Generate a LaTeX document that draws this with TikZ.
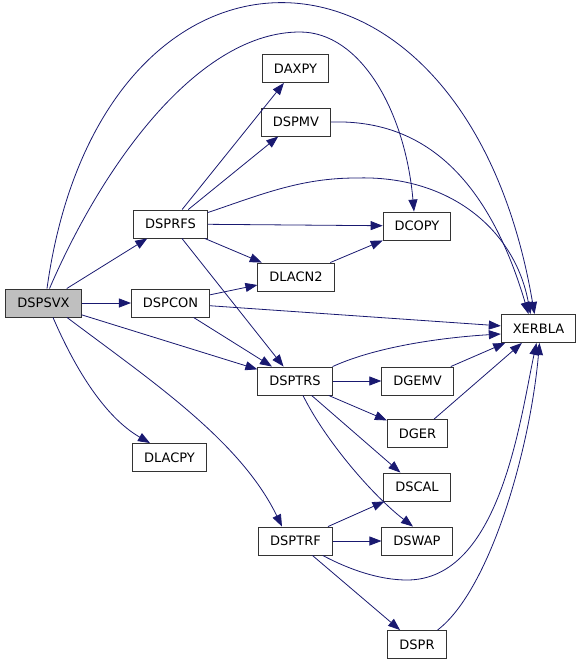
\documentclass[tikz,border=0pt]{standalone}
\usepackage{fontspec}
\setsansfont{DejaVu Sans}
\usetikzlibrary{arrows.meta,positioning}
\definecolor{wire}{HTML}{191970}
\definecolor{focus}{HTML}{BFBFBF}

\begin{document}
\begin{tikzpicture}[x=1pt,y=-1pt,>={Triangle[length=12pt,width=9pt]},
    box/.style={draw=black!80,fill=white,line width=0.9pt,inner xsep=11.5pt,
                inner ysep=0pt,minimum height=28pt,
                font=\sffamily\fontsize{13}{15}\selectfont},
    call/.style={->,wire,line width=0.8pt}]
    \useasboundingbox (0,0) rectangle (581,665);
    % routines
    \node[box,fill=focus] (dspsvx) at (43.5,303) {DSPSVX};
    \node[box] (dspcon) at (170.5,303) {DSPCON};
    \node[box] (dsprfs) at (170.5,224) {DSPRFS};
    \node[box] (dlacpy) at (169.5,457.5) {DLACPY};
    \node[box] (daxpy) at (295.5,68.5) {DAXPY};
    \node[box] (dspmv) at (296,122) {DSPMV};
    \node[box] (dlacn2) at (296,277) {DLACN2};
    \node[box] (dsptrs) at (295,381) {DSPTRS};
    \node[box] (dsptrf) at (295.5,541) {DSPTRF};
    \node[box] (dcopy) at (417,226) {DCOPY};
    \node[box] (dgemv) at (417.5,381) {DGEMV};
    \node[box] (dger) at (417.5,433.5) {DGER};
    \node[box] (dscal) at (417,487) {DSCAL};
    \node[box] (dswap) at (417,541) {DSWAP};
    \node[box] (dspr) at (417,644.5) {DSPR};
    \node[box] (xerbla) at (538.5,328.5) {XERBLA};
    % calls from the driver
    \draw[call] (dspsvx) -- (dspcon);
    \draw[call] (dspsvx) -- (dsprfs);
    \draw[call] (dspsvx) -- (dsptrs);
    \draw[call] ([xshift=9.5]dspsvx.south) .. controls (80,380) and (110,420) .. ([xshift=-19.5]dlacpy.north);
    \draw[call] ([xshift=23.5]dspsvx.south) .. controls (150,380) and (240,440) .. ([xshift=-13.5]dsptrf.north);
    \draw[call] ([xshift=3.5]dspsvx.north) .. controls (100,-95) and (465,-95) .. ([xshift=-4]xerbla.north);
    \draw[call] ([xshift=6]dspsvx.north) .. controls (105,160) and (200,32) .. (300,32)
        .. controls (360,32) and (405,110) .. ([xshift=-3]dcopy.north);
    % refinement
    \draw[call] (dsprfs) -- (daxpy);
    \draw[call] (dsprfs) -- (dspmv);
    \draw[call] (dsprfs) -- (dcopy);
    \draw[call] (dsprfs) -- (dlacn2);
    \draw[call] (dsprfs) -- (dsptrs);
    \draw[call] ([yshift=-3]dsprfs.north east) .. controls (260,195) and (300,178) .. (356,178)
        .. controls (450,175) and (515,230) .. ([xshift=-8]xerbla.north);
    \draw[call] (dspmv.east) .. controls (400,120) and (480,150) .. ([xshift=-10]xerbla.north);
    % condition number
    \draw[call] (dspcon) -- (dlacn2);
    \draw[call] (dspcon) -- (xerbla);
    \draw[call] (dspcon) -- (dsptrs);
    \draw[call] (dlacn2) -- (dcopy);
    % solve
    \draw[call] (dsptrs.north east) .. controls (380,345) and (450,337) .. ([yshift=-5.5]xerbla.west);
    \draw[call] (dsptrs) -- (dgemv);
    \draw[call] (dsptrs) -- (dger);
    \draw[call] (dsptrs) -- (dscal);
    \draw[call] ([xshift=8]dsptrs.south) .. controls (325,440) and (372,495) .. ([xshift=-4]dswap.north);
    \draw[call] (dgemv) -- (xerbla);
    \draw[call] (dger) -- (xerbla);
    % factorization
    \draw[call] (dsptrf) -- (dscal);
    \draw[call] (dsptrf) -- (dswap);
    \draw[call] (dsptrf) -- (dspr);
    \draw[call] ([xshift=-10]dsptrf.south east) .. controls (350,570) and (380,580) .. (407,580)
        .. controls (500,580) and (520,420) .. ([xshift=-2]xerbla.south);
    \draw[call] ([xshift=-9]dspr.north east) .. controls (490,590) and (530,450) .. ([xshift=1]xerbla.south);
\end{tikzpicture}
\end{document}
